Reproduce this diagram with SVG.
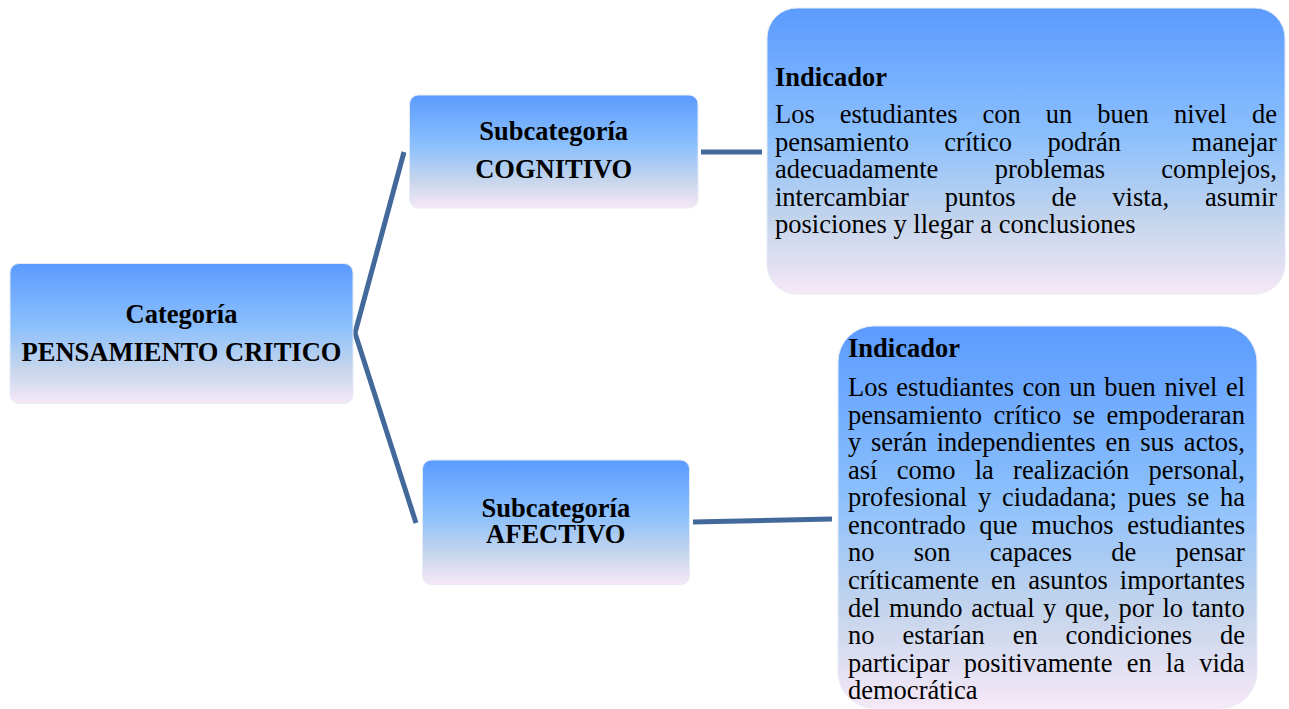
<svg xmlns="http://www.w3.org/2000/svg" width="1289" height="709" viewBox="0 0 1289 709">
<defs>
<linearGradient id="fill" x1="0" y1="0" x2="0" y2="1">
<stop offset="0" stop-color="#5b9bff"/>
<stop offset="0.45" stop-color="#8cc0fc"/>
<stop offset="0.75" stop-color="#c5d5ec"/>
<stop offset="1" stop-color="#f6e8f7"/>
</linearGradient>
</defs>
<style>
.box{fill:url(#fill);stroke:#e4ebf5;stroke-width:1}
.t{font-family:"Liberation Serif","Times New Roman",serif;font-size:26.5px;fill:#000}
.b{font-weight:bold}
.c{text-anchor:middle}
.edge{fill:none;stroke:#43699b;stroke-width:5;stroke-linecap:butt}
</style>
<rect width="1289" height="709" fill="#ffffff"/>
<g id="connectors">
<path class="edge" d="M404,152 L355,333 L416,523"/>
<path class="edge" d="M701,152 L762,152"/>
<path class="edge" d="M693,522 L832,519"/>
</g>
<g id="categoria">
<rect class="box" x="10" y="263.5" width="343" height="140" rx="9"/>
<text class="t b c" x="181.5" y="323">Categoría</text>
<text class="t b c" x="181.5" y="361">PENSAMIENTO CRITICO</text>
</g>
<g id="sub-cognitivo">
<rect class="box" x="409.5" y="95" width="288.5" height="113" rx="9"/>
<text class="t b c" x="553.7" y="140">Subcategoría</text>
<text class="t b c" x="553.7" y="178">COGNITIVO</text>
</g>
<g id="sub-afectivo">
<rect class="box" x="422.5" y="460" width="267" height="124.5" rx="9"/>
<text class="t b c" x="555.8" y="516.5">Subcategoría</text>
<text class="t b c" x="555.8" y="543">AFECTIVO</text>
</g>
<g id="indicador-1">
<rect class="box" x="767" y="8" width="518" height="286" rx="30"/>
<text class="t b" x="775" y="86">Indicador</text>
<text class="t" x="775" y="123" style="word-spacing:18.4px">Los estudiantes con un buen nivel de</text>
<text class="t" y="150.5"><tspan x="775">pensamiento</tspan><tspan x="944.3">crítico</tspan><tspan x="1047.4">podrán</tspan><tspan x="1191.6">manejar</tspan></text>
<text class="t" x="775" y="178" style="word-spacing:49.7px">adecuadamente problemas complejos,</text>
<text class="t" x="775" y="205.5" style="word-spacing:29.3px">intercambiar puntos de vista, asumir</text>
<text class="t" x="775" y="233">posiciones y llegar a conclusiones</text>
</g>
<g id="indicador-2">
<rect class="box" x="838" y="326" width="419" height="382" rx="36"/>
<text class="t b" x="848" y="357">Indicador</text>
<text class="t" x="848" y="396" style="word-spacing:1.9px">Los estudiantes con un buen nivel el</text>
<text class="t" x="848" y="423.6" style="word-spacing:5px">pensamiento crítico se empoderaran</text>
<text class="t" x="848" y="451.1" style="word-spacing:3.15px">y serán independientes en sus actos,</text>
<text class="t" x="848" y="478.7" style="word-spacing:12.6px">así como la realización personal,</text>
<text class="t" x="848" y="506.3" style="word-spacing:4.2px">profesional y ciudadana; pues se ha</text>
<text class="t" x="848" y="533.9" style="word-spacing:7px">encontrado que muchos estudiantes</text>
<text class="t" x="848" y="561.4" style="word-spacing:32.6px">no son capaces de pensar</text>
<text class="t" x="848" y="589" style="word-spacing:5.5px">críticamente en asuntos importantes</text>
<text class="t" x="848" y="616.6" style="word-spacing:2px">del mundo actual y que, por lo tanto</text>
<text class="t" x="848" y="644.1" style="word-spacing:21.25px">no estarían en condiciones de</text>
<text class="t" x="848" y="671.7" style="word-spacing:7.6px">participar positivamente en la vida</text>
<text class="t" x="848" y="699.3">democrática</text>
</g>
</svg>
